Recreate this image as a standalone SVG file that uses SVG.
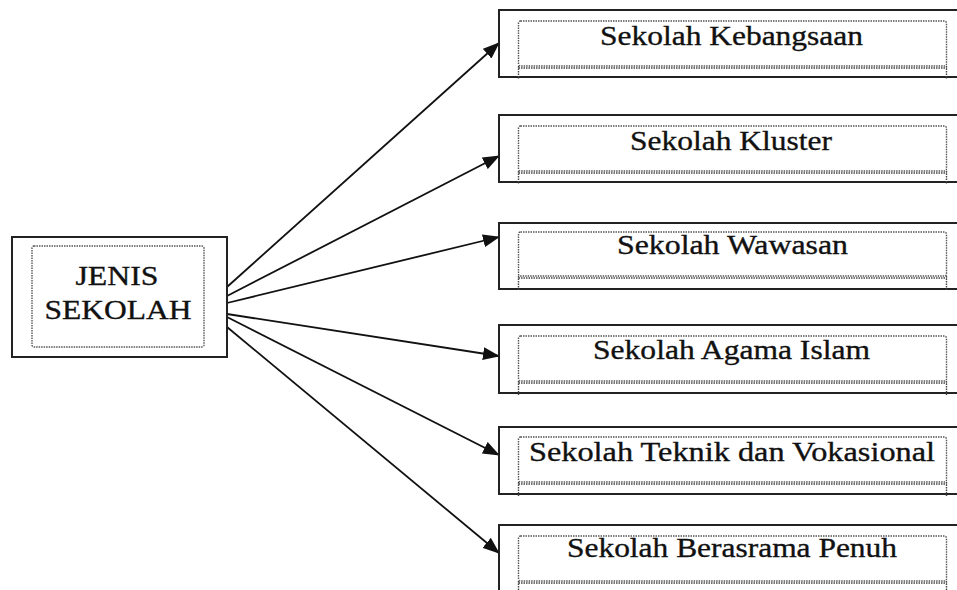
<svg xmlns="http://www.w3.org/2000/svg" width="957" height="590" viewBox="0 0 957 590">
  <style>
    .outer { fill: #fff; stroke: #222; stroke-width: 2; }
    .inner { fill: none; stroke: #555; stroke-width: 1.4; stroke-dasharray: 1.5 1; }
    .rule  { fill: none; stroke: #444; stroke-width: 1.4; stroke-dasharray: 1.5 1; }
    text { font-family: "Liberation Serif", "Times New Roman", serif; font-size: 28px; fill: #111; stroke: #111; stroke-width: 0.35; text-anchor: middle; }
    .conn  { stroke: #111; stroke-width: 1.8; fill: none; marker-end: url(#arrow); }
  </style>
  <defs>
    <marker id="arrow" viewBox="0 0 17 13" refX="16" refY="6.5" markerWidth="17" markerHeight="13" markerUnits="userSpaceOnUse" orient="auto">
      <path d="M0,0 L17,6.5 L0,13 Z" fill="#111"/>
    </marker>
  </defs>

  <rect width="957" height="590" fill="#fff"/>

  <!-- connectors -->
  <g id="connectors">
    <line class="conn" x1="227" y1="287" x2="499" y2="43"/>
    <line class="conn" x1="227" y1="296" x2="499" y2="156"/>
    <line class="conn" x1="227" y1="303" x2="499" y2="237"/>
    <line class="conn" x1="227" y1="314" x2="499" y2="356"/>
    <line class="conn" x1="227" y1="317" x2="499" y2="455"/>
    <line class="conn" x1="227" y1="327" x2="499" y2="553"/>
  </g>

  <!-- source node -->
  <g id="jenis-sekolah">
    <rect class="outer" x="12" y="237" width="215" height="120"/>
    <rect class="inner" x="32" y="246" width="172" height="101" rx="2"/>
    <text x="117" y="285" textLength="83" lengthAdjust="spacingAndGlyphs">JENIS</text>
    <text x="118" y="319" textLength="147" lengthAdjust="spacingAndGlyphs">SEKOLAH</text>
  </g>

  <!-- target nodes -->
  <g id="sekolah-kebangsaan">
    <rect class="outer" x="499" y="10" width="470" height="67"/>
    <rect class="inner" x="518.5" y="21" width="428" height="45" rx="2"/>
    <path class="rule" d="M518.5,68 H946.5 M518.5,66 V79 M946.5,66 V79"/>
    <text x="731.5" y="45" textLength="263" lengthAdjust="spacingAndGlyphs">Sekolah Kebangsaan</text>
  </g>

  <g id="sekolah-kluster">
    <rect class="outer" x="499" y="115" width="470" height="67"/>
    <rect class="inner" x="518.5" y="126" width="428" height="45" rx="2"/>
    <path class="rule" d="M518.5,173 H946.5 M518.5,171 V184 M946.5,171 V184"/>
    <text x="731" y="150" textLength="202" lengthAdjust="spacingAndGlyphs">Sekolah Kluster</text>
  </g>

  <g id="sekolah-wawasan">
    <rect class="outer" x="499" y="223" width="470" height="66"/>
    <rect class="inner" x="518.5" y="232" width="428" height="44" rx="2"/>
    <path class="rule" d="M518.5,278 H946.5 M518.5,276 V291 M946.5,276 V291"/>
    <text x="732.5" y="254" textLength="231" lengthAdjust="spacingAndGlyphs">Sekolah Wawasan</text>
  </g>

  <g id="sekolah-agama-islam">
    <rect class="outer" x="499" y="325" width="470" height="68"/>
    <rect class="inner" x="518.5" y="336" width="428" height="45" rx="2"/>
    <path class="rule" d="M518.5,383 H946.5 M518.5,381 V395 M946.5,381 V395"/>
    <text x="731.5" y="359" textLength="277" lengthAdjust="spacingAndGlyphs">Sekolah Agama Islam</text>
  </g>

  <g id="sekolah-teknik-vokasional">
    <rect class="outer" x="499" y="427" width="470" height="67"/>
    <rect class="inner" x="518.5" y="437" width="428" height="45" rx="2"/>
    <path class="rule" d="M518.5,484 H946.5 M518.5,482 V496 M946.5,482 V496"/>
    <text x="732" y="461" textLength="406" lengthAdjust="spacingAndGlyphs">Sekolah Teknik dan Vokasional</text>
  </g>

  <g id="sekolah-berasrama-penuh">
    <rect class="outer" x="499" y="525" width="470" height="80"/>
    <rect class="inner" x="518.5" y="536" width="428" height="45" rx="2"/>
    <path class="rule" d="M518.5,583 H946.5 M518.5,581 V594 M946.5,581 V594"/>
    <text x="732" y="557" textLength="330" lengthAdjust="spacingAndGlyphs">Sekolah Berasrama Penuh</text>
  </g>
</svg>
